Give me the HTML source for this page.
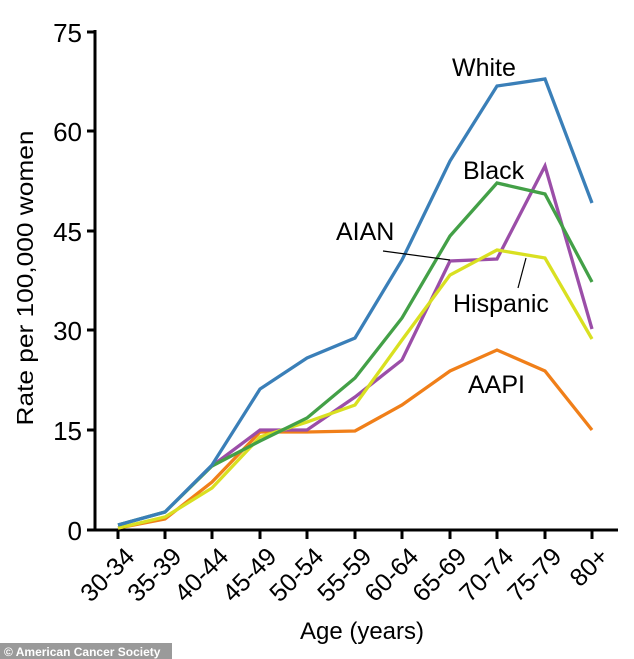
<!DOCTYPE html>
<html><head><style>body{margin:0;background:#fff}svg{display:block}</style></head><body>
<svg width="634" height="659" xmlns="http://www.w3.org/2000/svg" font-family="Liberation Sans, sans-serif">
<g stroke="#000" stroke-width="3" fill="none">
<line x1="95" y1="30" x2="95" y2="531"/>
<line x1="94" y1="530" x2="618" y2="530"/>
<line x1="87" y1="32" x2="95" y2="32"/><line x1="87" y1="131" x2="95" y2="131"/><line x1="87" y1="231" x2="95" y2="231"/><line x1="87" y1="330" x2="95" y2="330"/><line x1="87" y1="430" x2="95" y2="430"/>
<line x1="87" y1="530" x2="95" y2="530"/>
<g><line x1="118" y1="530" x2="118" y2="539"/><line x1="165" y1="530" x2="165" y2="539"/><line x1="212" y1="530" x2="212" y2="539"/><line x1="260" y1="530" x2="260" y2="539"/><line x1="307" y1="530" x2="307" y2="539"/><line x1="355" y1="530" x2="355" y2="539"/><line x1="402" y1="530" x2="402" y2="539"/><line x1="450" y1="530" x2="450" y2="539"/><line x1="497" y1="530" x2="497" y2="539"/><line x1="545" y1="530" x2="545" y2="539"/><line x1="592" y1="530" x2="592" y2="539"/></g>
</g>
<g font-size="26" text-anchor="end" fill="#000">
<text x="82" y="42">75</text><text x="82" y="141">60</text><text x="82" y="241">45</text><text x="82" y="340">30</text><text x="82" y="440">15</text><text x="82" y="540">0</text>
</g>
<text transform="translate(33,278) rotate(-90)" font-size="23" text-anchor="middle" textLength="295" lengthAdjust="spacingAndGlyphs">Rate per 100,000 women</text>
<g font-size="25" text-anchor="end">
<text transform="translate(136,558) rotate(-45)">30-34</text>
<text transform="translate(183,558) rotate(-45)">35-39</text>
<text transform="translate(230,558) rotate(-45)">40-44</text>
<text transform="translate(278,558) rotate(-45)">45-49</text>
<text transform="translate(325,558) rotate(-45)">50-54</text>
<text transform="translate(373,558) rotate(-45)">55-59</text>
<text transform="translate(420,558) rotate(-45)">60-64</text>
<text transform="translate(468,558) rotate(-45)">65-69</text>
<text transform="translate(515,558) rotate(-45)">70-74</text>
<text transform="translate(563,558) rotate(-45)">75-79</text>
<text transform="translate(610,558) rotate(-45)">80+</text>
</g>
<text x="362" y="639" font-size="24" text-anchor="middle">Age (years)</text>
<g fill="none" stroke-width="3.3" stroke-linejoin="miter">
<polyline stroke="#f07f19" points="118,528 165,519 212,482 260,432 307,432 355,431 402,405 450,371 497,350 545,371 592,430"/>
<polyline stroke="#9b4ea8" points="212,466 260,430 307,430 355,397 402,360 450,261 497,259 545,166 592,329"/>
<polyline stroke="#d9e021" points="118,528 165,517 212,488 260,437 307,422 355,405 402,340 450,275 497,250 545,258 592,339"/>
<polyline stroke="#43a047" points="118,525 165,512 212,466 260,441 307,418 355,378 402,318 450,236 497,183 545,194 592,282"/>
<polyline stroke="#3a7fb8" points="118,525 165,512 212,465 260,389 307,358 355,338 402,260 450,161 497,86 545,79 592,203"/>
</g>
<g stroke="#000" stroke-width="1.2"><line x1="383" y1="251" x2="450" y2="260"/><line x1="518" y1="288" x2="526" y2="258"/></g>
<g font-size="25">
<text x="452" y="76">White</text><text x="463" y="179">Black</text><text x="336" y="240">AIAN</text><text x="453" y="312">Hispanic</text><text x="468" y="393">AAPI</text>
</g>
<rect x="0" y="643" width="172" height="16" fill="#9a9a9a"/>
<text x="4" y="656" font-size="12" font-weight="bold" fill="#fff">© American Cancer Society</text>
</svg>
</body></html>
